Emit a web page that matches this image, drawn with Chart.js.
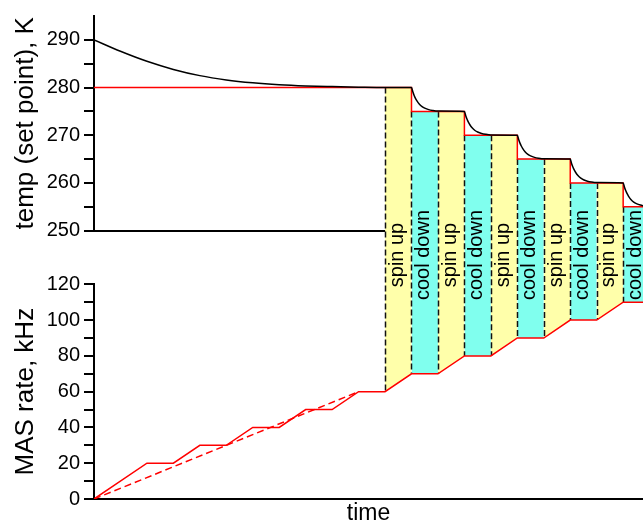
<!DOCTYPE html>
<html>
<head>
<meta charset="utf-8">
<script src="https://cdn.jsdelivr.net/npm/chart.js@4/dist/chart.umd.min.js"></script>
<style>
html, body { margin: 0; padding: 0; background: #ffffff; }
canvas { display: block; }
</style>
</head>
<body>
<canvas id="chart" width="643" height="525"></canvas>
<script>
// ---- data (time in arbitrary units: one spin-up / cool-down step = 1) ----
const masTime = [0, 2, 3, 4, 5, 6, 7, 8, 9, 10, 11, 12, 13, 14, 15, 16, 17, 18, 19, 20, 21];
const masRate = [0, 20, 20, 30, 30, 40, 40, 50, 50, 60, 60, 70, 70, 80, 80, 90, 90, 100, 100, 110, 110];

const masRampTime = [0, 10];
const masRampRate = [0, 60];

const setPointTime = [0, 12, 12, 14, 14, 16, 16, 18, 18, 20, 20, 21];
const setPointTemp = [280, 280, 275, 275, 270, 270, 265, 265, 260, 260, 255, 255];

const sampleTime = [
  0, 1, 2, 3, 4, 5, 6, 7, 8, 9, 10, 11,
  12, 12.05, 12.1, 12.15, 12.2, 12.3, 12.4, 12.5, 12.65, 12.8, 13,
  14, 14.05, 14.1, 14.15, 14.2, 14.3, 14.4, 14.5, 14.65, 14.8, 15,
  16, 16.05, 16.1, 16.15, 16.2, 16.3, 16.4, 16.5, 16.65, 16.8, 17,
  18, 18.05, 18.1, 18.15, 18.2, 18.3, 18.4, 18.5, 18.65, 18.8, 19,
  20, 20.05, 20.1, 20.15, 20.2, 20.3, 20.4, 20.5, 20.65, 20.8, 21
];
const sampleTemp = [
  290, 287.6, 285.5, 283.8, 282.5, 281.6, 281.0, 280.6, 280.35, 280.2, 280.08, 280.0,
  280.0, 279.1, 278.35, 277.75, 277.25, 276.5, 276.0, 275.68, 275.37, 275.2, 275.08,
  275.0, 274.1, 273.35, 272.75, 272.25, 271.5, 271.0, 270.68, 270.37, 270.2, 270.08,
  270.0, 269.1, 268.35, 267.75, 267.25, 266.5, 266.0, 265.68, 265.37, 265.2, 265.08,
  265.0, 264.1, 263.35, 262.75, 262.25, 261.5, 261.0, 260.68, 260.37, 260.2, 260.08,
  260.0, 259.1, 258.35, 257.75, 257.25, 256.5, 256.0, 255.68, 255.37, 255.2, 255.08
];

const bandStart = [11, 12, 13, 14, 15, 16, 17, 18, 19, 20];
const bandEnd = [12, 13, 14, 15, 16, 17, 18, 19, 20, 21];
const bandLabel = ['spin up', 'cool down', 'spin up', 'cool down', 'spin up', 'cool down', 'spin up', 'cool down', 'spin up', 'cool down'];
const bandTopTemp = [280, 275, 275, 270, 270, 265, 265, 260, 260, 255];
const bandRateStart = [60, 70, 70, 80, 80, 90, 90, 100, 100, 110];
const bandRateEnd = [70, 70, 80, 80, 90, 90, 100, 100, 110, 110];

const tempTickLabels = [250, 260, 270, 280, 290];
const masTickLabels = [0, 20, 40, 60, 80, 100, 120];

// ---- styling ----
const FONT = '"Liberation Sans", Arial, Helvetica, sans-serif';
const SPIN_COLOR = '#ffffaa';
const COOL_COLOR = '#80ffee';
Chart.defaults.font.family = FONT;
Chart.defaults.color = '#000';

const pts = (xs, ys) => xs.map((x, i) => ({ x: x, y: ys[i] }));

const datasets = [
  { label: 'temperature', data: pts(sampleTime, sampleTemp), yAxisID: 'yT',
    borderColor: '#000', borderWidth: 1.5, pointRadius: 0, fill: false,
    cubicInterpolationMode: 'monotone' },
  { label: 'set point', data: pts(setPointTime, setPointTemp), yAxisID: 'yT',
    borderColor: '#ff0000', borderWidth: 1.5, pointRadius: 0, fill: false, tension: 0 },
  { label: 'MAS rate', data: pts(masTime, masRate), yAxisID: 'yM',
    borderColor: '#ff0000', borderWidth: 1.5, pointRadius: 0, fill: false, tension: 0 },
  { label: 'MAS ramp', data: pts(masRampTime, masRampRate), yAxisID: 'yM',
    borderColor: '#ff0000', borderWidth: 1.5, borderDash: [7, 4], pointRadius: 0, fill: false, tension: 0 }
];

// bands span both panels: top edge on the temperature axis, bottom edge on the MAS axis
bandStart.forEach((s, i) => {
  const color = bandLabel[i] === 'spin up' ? SPIN_COLOR : COOL_COLOR;
  datasets.push({
    label: bandLabel[i] + ' top', yAxisID: 'yT',
    data: [{ x: s, y: bandTopTemp[i] }, { x: bandEnd[i], y: bandTopTemp[i] }],
    borderWidth: 0, borderColor: 'rgba(0,0,0,0)', pointRadius: 0,
    backgroundColor: color, fill: '+1',
    clip: { left: 0, right: 0, top: false, bottom: false }
  });
  datasets.push({
    label: bandLabel[i] + ' bottom', yAxisID: 'yM',
    data: [{ x: s, y: bandRateStart[i] }, { x: bandEnd[i], y: bandRateEnd[i] }],
    borderWidth: 0, borderColor: 'rgba(0,0,0,0)', pointRadius: 0, fill: false,
    clip: { left: 0, right: 0, top: false, bottom: false }
  });
});

const bandDecor = {
  id: 'bandDecor',
  beforeDatasetsDraw(chart) {
    const { ctx, chartArea, scales } = chart;
    const x = scales.x, yT = scales.yT, yM = scales.yM, yGap = scales.yGap;
    ctx.save();
    ctx.beginPath();
    ctx.rect(chartArea.left, chartArea.top, chartArea.right - chartArea.left, chartArea.bottom - chartArea.top);
    ctx.clip();
    // dashed band boundaries
    ctx.setLineDash([6, 3]);
    ctx.lineWidth = 1.5;
    ctx.strokeStyle = '#111';
    bandStart.forEach((s, i) => {
      const px = Math.round(x.getPixelForValue(s)) + 0.5;
      ctx.beginPath();
      ctx.moveTo(px, yT.getPixelForValue(bandTopTemp[i]));
      ctx.lineTo(px, yM.getPixelForValue(bandRateStart[i]));
      ctx.stroke();
    });
    // labels
    ctx.setLineDash([]);
    ctx.fillStyle = '#000';
    ctx.font = '20px ' + FONT;
    ctx.textAlign = 'center';
    ctx.textBaseline = 'middle';
    const yc = (yGap.top + yGap.bottom) / 2 - 2.5;
    bandStart.forEach((s, i) => {
      const xc = (x.getPixelForValue(s) + x.getPixelForValue(bandEnd[i])) / 2 - 1;
      ctx.save();
      ctx.translate(xc, yc);
      ctx.rotate(-Math.PI / 2);
      ctx.fillText(bandLabel[i], 0, 0);
      ctx.restore();
    });
    ctx.restore();
  }
};

const yWidth = (s) => { s.width = 94; };

new Chart(document.getElementById('chart'), {
  type: 'line',
  data: { datasets: datasets },
  plugins: [bandDecor],
  options: {
    responsive: false,
    animation: false,
    events: [],
    layout: { padding: { top: 13, left: 0, right: 0, bottom: 0 } },
    plugins: {
      legend: { display: false },
      tooltip: { enabled: false },
      filler: { drawTime: 'beforeDatasetsDraw', propagate: false }
    },
    scales: {
      x: {
        type: 'linear', position: 'bottom', min: 0, max: 20.75,
        afterFit: (s) => { s.height = 26; },
        ticks: { display: false },
        grid: { display: false, drawTicks: false },
        border: { display: true, color: '#000', width: 2 },
        title: { display: true, text: 'time', color: '#000',
                 font: { size: 23, family: FONT, lineHeight: 1 }, padding: { top: 0, bottom: 0 } }
      },
      yM: {
        type: 'linear', position: 'left', stack: 'panels', stackWeight: 4, weight: 1,
        min: 0, max: 120,
        afterFit: yWidth,
        ticks: { stepSize: 10, autoSkip: false, padding: 4, color: '#000',
                 font: { size: 20, family: FONT },
                 callback: (v) => masTickLabels.includes(v) ? String(v) : '' },
        grid: { drawOnChartArea: false, color: 'rgba(0,0,0,0)', lineWidth: 2,
                tickLength: 10, tickWidth: 2, tickColor: '#000' },
        border: { display: true, color: '#000', width: 2 },
        title: { display: true, text: 'MAS rate, kHz', color: '#000',
                 font: { size: 26, family: FONT }, padding: { top: 10, bottom: 0 } }
      },
      yGap: {
        type: 'linear', position: 'left', stack: 'panels', stackWeight: 1, weight: 2,
        min: 0, max: 1,
        afterFit: yWidth,
        ticks: { display: false },
        grid: { display: false, drawTicks: false },
        border: { display: false }
      },
      yT: {
        type: 'linear', position: 'left', stack: 'panels', stackWeight: 4, weight: 3,
        min: 250, max: 295,
        afterFit: yWidth,
        ticks: { stepSize: 5, autoSkip: false, padding: 4, color: '#000',
                 font: { size: 20, family: FONT },
                 callback: (v) => tempTickLabels.includes(v) ? String(v) : '' },
        grid: { drawOnChartArea: true,
                color: (c) => (c.tick && c.tick.value === 250) ? '#000' : 'rgba(0,0,0,0)',
                lineWidth: 2, tickLength: 10, tickWidth: 2,
                tickColor: (c) => (c.tick && c.tick.value === 295) ? 'rgba(0,0,0,0)' : '#000' },
        border: { display: true, color: '#000', width: 2 },
        title: { display: true, text: 'temp (set point), K', color: '#000',
                 font: { size: 26, family: FONT }, padding: { top: 10, bottom: 0 } }
      }
    }
  }
});
</script>
</body>
</html>
